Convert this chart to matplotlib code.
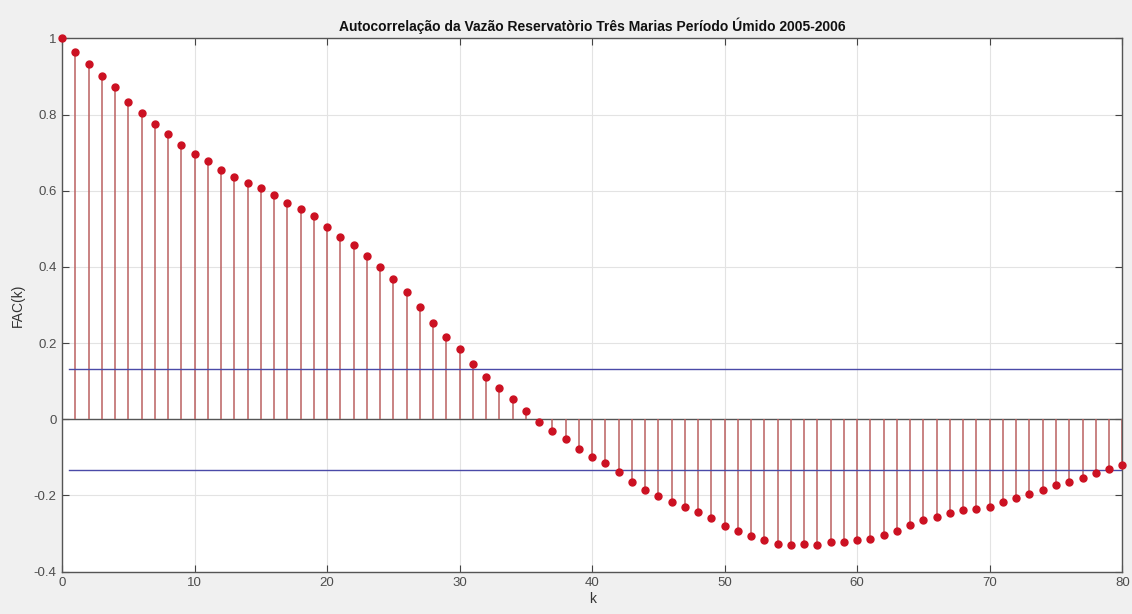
import matplotlib
matplotlib.use("Agg")
import matplotlib.pyplot as plt
import numpy as np

plt.rcParams['font.family'] = ['Liberation Sans', 'DejaVu Sans']

lags = list(range(0, 81))
fac = [1.000, 0.964, 0.932, 0.902, 0.872, 0.834, 0.803, 0.776, 0.750, 0.721,
       0.697, 0.679, 0.655, 0.636, 0.621, 0.606, 0.589, 0.568, 0.552, 0.533,
       0.504, 0.479, 0.457, 0.429, 0.400, 0.368, 0.334, 0.294, 0.252, 0.216,
       0.184, 0.145, 0.112, 0.081, 0.052, 0.023, -0.007, -0.030, -0.051, -0.078,
       -0.098, -0.114, -0.139, -0.165, -0.186, -0.202, -0.217, -0.230, -0.244, -0.258,
       -0.279, -0.294, -0.307, -0.316, -0.326, -0.329, -0.328, -0.329, -0.322, -0.322,
       -0.317, -0.315, -0.304, -0.294, -0.278, -0.265, -0.257, -0.246, -0.238, -0.235,
       -0.230, -0.217, -0.207, -0.196, -0.186, -0.172, -0.164, -0.154, -0.140, -0.130,
       -0.119]
conf = 0.133
conf_x = [0.5, 80]

fig = plt.figure(figsize=(11.32, 6.14), dpi=100, facecolor='#f0f0f0')
ax = fig.add_axes([0.0548, 0.0689, 0.9366, 0.8687])
ax.set_facecolor('white')

ax.grid(True, color='#e3e3e3', linewidth=0.8)
ax.set_axisbelow(True)

markerline, stemlines, baseline = ax.stem(lags, fac, basefmt=' ')
plt.setp(stemlines, color='#bb6060', linewidth=1.1)
plt.setp(markerline, color='#cc1122', marker='o', markersize=5,
         markerfacecolor='#cc1122', markeredgecolor='#cc1122', clip_on=False,
         zorder=4)
ax.axhline(0, color='#555555', linewidth=1.0, zorder=1.5)

ax.plot(conf_x, [conf, conf], color='#4a4aa8', linewidth=1.0)
ax.plot(conf_x, [-conf, -conf], color='#4a4aa8', linewidth=1.0)

ax.set_xlim(0, 80)
ax.set_ylim(-0.4, 1.0)
ax.set_xticks(range(0, 81, 10))
ax.set_yticks([-0.4, -0.2, 0, 0.2, 0.4, 0.6, 0.8, 1.0])
ax.set_yticklabels(['-0.4', '-0.2', '0', '0.2', '0.4', '0.6', '0.8', '1'])
ax.tick_params(direction='in', top=True, right=True, length=5, width=0.8,
               colors='#444444', labelsize=9.5, labelcolor='#4d4d4d', pad=4)
for s in ax.spines.values():
    s.set_color('#555555')
    s.set_linewidth(1.0)

ax.set_title('Autocorrelação da Vazão Reservatòrio Três Marias Período Úmido 2005-2006',
             fontsize=10, fontweight='bold', color='#111111', pad=5)
ax.set_xlabel('k', fontsize=10, color='#333333', labelpad=2)
ax.set_ylabel('FAC(k)', fontsize=10, color='#333333', labelpad=6)

fig.savefig('out.png', dpi=100, facecolor=fig.get_facecolor())
